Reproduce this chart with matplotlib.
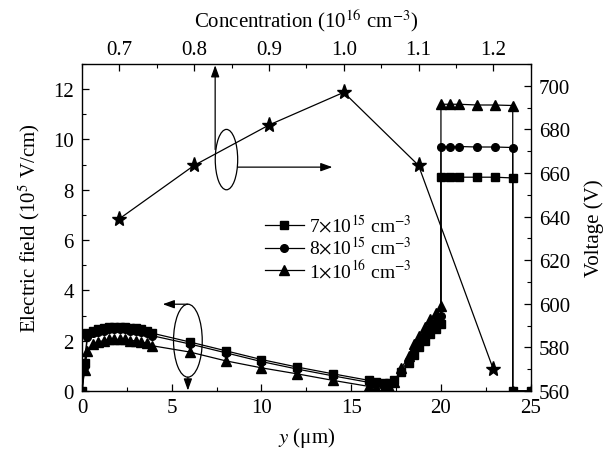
import matplotlib
matplotlib.use("Agg")
import matplotlib.pyplot as plt
from matplotlib.patches import Ellipse
from matplotlib.ticker import MultipleLocator, FormatStrFormatter

plt.rcParams['font.family'] = ['Liberation Serif', 'DejaVu Serif']
plt.rcParams['mathtext.fontset'] = 'stix'
plt.rcParams['font.size'] = 15

# ---- Electric field data (bottom x: y position in um, left y: E in 1e5 V/cm)
y_pos = [0, 0.15, 0.3, 0.6, 0.9, 1.2, 1.5, 1.8, 2.1, 2.4, 2.7, 3.0, 3.3, 3.6, 3.9,
         6, 8, 10, 12, 14, 16, 16.4, 16.8, 17.1, 17.4, 17.8, 18.2, 18.5, 18.8,
         19.1, 19.4, 19.7, 20, 20, 20.5, 21, 22, 23, 24, 24, 25]
E_7e15 = [0, 1.1, 2.3, 2.4, 2.45, 2.5, 2.55, 2.55, 2.55, 2.55, 2.5, 2.5, 2.45, 2.4, 2.3,
          1.95, 1.6, 1.25, 0.95, 0.68, 0.42, 0.35, 0.3, 0.33, 0.42, 0.75, 1.1, 1.45, 1.75,
          2.0, 2.25, 2.45, 2.65, 8.5, 8.5, 8.5, 8.5, 8.5, 8.47, 0, 0]
E_8e15 = [0, 1.0, 2.15, 2.3, 2.35, 2.4, 2.45, 2.45, 2.45, 2.45, 2.4, 2.4, 2.35, 2.3, 2.2,
          1.87, 1.52, 1.17, 0.87, 0.6, 0.34, 0.28, 0.22, 0.26, 0.38, 0.8, 1.25, 1.6, 1.95,
          2.25, 2.5, 2.75, 3.0, 9.72, 9.72, 9.72, 9.7, 9.7, 9.68, 0, 0]
E_1e16 = [0, 0.85, 1.6, 1.85, 1.95, 2.0, 2.05, 2.05, 2.05, 2.05, 2.0, 2.0, 1.95, 1.9, 1.8,
          1.55, 1.2, 0.92, 0.68, 0.42, 0.18, 0.12, 0.1, 0.15, 0.35, 0.9, 1.4, 1.85, 2.2,
          2.55, 2.85, 3.1, 3.38, 11.4, 11.4, 11.4, 11.37, 11.37, 11.35, 0, 0]

# ---- Breakdown voltage vs concentration (top x, right y)
conc = [0.7, 0.8, 0.9, 1.0, 1.1, 1.2]
voltage = [639, 663.5, 682, 697, 663.5, 570]

series_labels = [r"7$\times$10$^{15}$ cm$^{-3}$",
                 r"8$\times$10$^{15}$ cm$^{-3}$",
                 r"1$\times$10$^{16}$ cm$^{-3}$"]

fig = plt.figure(figsize=(6.16, 4.64), dpi=100)
pos = [0.1331, 0.1552, 0.7284, 0.7047]
ax = fig.add_axes(pos)
lw = 0.9
ax.plot(y_pos, E_7e15, '-s', color='black', lw=lw, ms=5.5, label=series_labels[0])
ax.plot(y_pos, E_8e15, '-o', color='black', lw=lw, ms=5.5, label=series_labels[1])
ax.plot(y_pos, E_1e16, '-^', color='black', lw=lw, ms=6.5, label=series_labels[2])
ax.set_xlim(0, 25)
ax.set_ylim(0, 13)
ax.xaxis.set_major_locator(MultipleLocator(5))
ax.xaxis.set_minor_locator(MultipleLocator(2.5))
ax.yaxis.set_major_locator(MultipleLocator(2))
ax.yaxis.set_minor_locator(MultipleLocator(1))
ax.tick_params(which='both', direction='in', top=False, right=False)
ax.tick_params(which='major', length=5, width=0.9)
ax.tick_params(which='minor', length=3, width=0.8)
ax.tick_params(axis='y', pad=6)
ax.tick_params(axis='x', pad=5)
ax.set_xlabel(r"$y$ (μm)", labelpad=6)
ax.set_ylabel(r"Electric field (10$^{5}$ V/cm)", labelpad=8)
for s in ax.spines.values():
    s.set_linewidth(1.0)

leg = ax.legend(loc='upper left', bbox_to_anchor=(0.39, 0.565), frameon=False,
                handlelength=2.0, handletextpad=0.3, labelspacing=0.0,
                borderaxespad=0, fontsize=14)

# annotations (ellipses and arrows) in E-field axes coordinates
ax.add_patch(Ellipse((8.05, 9.2), 1.25, 2.4, fill=False, ec='black', lw=0.9))
ax.add_patch(Ellipse((5.9, 2.0), 1.6, 2.9, fill=False, ec='black', lw=0.9))
ap = dict(arrowstyle='-|>,head_length=0.5,head_width=0.18', color='black', lw=0.9,
          mutation_scale=14, shrinkA=0, shrinkB=0)
ax.annotate('', xy=(7.42, 12.95), xytext=(7.42, 9.6), arrowprops=ap)
ax.annotate('', xy=(13.95, 8.9), xytext=(8.67, 8.9), arrowprops=ap)
ax.annotate('', xy=(4.5, 3.45), xytext=(5.9, 3.45), arrowprops=ap)
ax.annotate('', xy=(5.9, 0.02), xytext=(5.9, 0.55), arrowprops=ap)

# secondary axes: top concentration, right voltage
ax2 = fig.add_axes(pos, frameon=False)
ax2.patch.set_visible(False)
ax2.plot(conc, voltage, '-*', color='black', lw=lw, ms=11)
ax2.set_xlim(0.65, 1.25)
ax2.set_ylim(560, 710)
ax2.xaxis.tick_top()
ax2.xaxis.set_label_position('top')
ax2.yaxis.tick_right()
ax2.yaxis.set_label_position('right')
ax2.xaxis.set_major_locator(MultipleLocator(0.1))
ax2.xaxis.set_minor_locator(MultipleLocator(0.05))
ax2.yaxis.set_major_locator(MultipleLocator(20))
ax2.yaxis.set_minor_locator(MultipleLocator(10))
ax2.xaxis.set_major_formatter(FormatStrFormatter('%.1f'))
ax2.tick_params(which='both', direction='in', bottom=False, left=False,
                top=True, right=True)
ax2.tick_params(which='major', length=5, width=0.9)
ax2.tick_params(which='minor', length=3, width=0.8)
ax2.tick_params(axis='y', pad=6)
ax2.set_xlabel(r"Concentration (10$^{16}$ cm$^{-3}$)", labelpad=10)
ax2.set_ylabel("Voltage (V)", labelpad=10)

fig.savefig("out.png", dpi=100)
